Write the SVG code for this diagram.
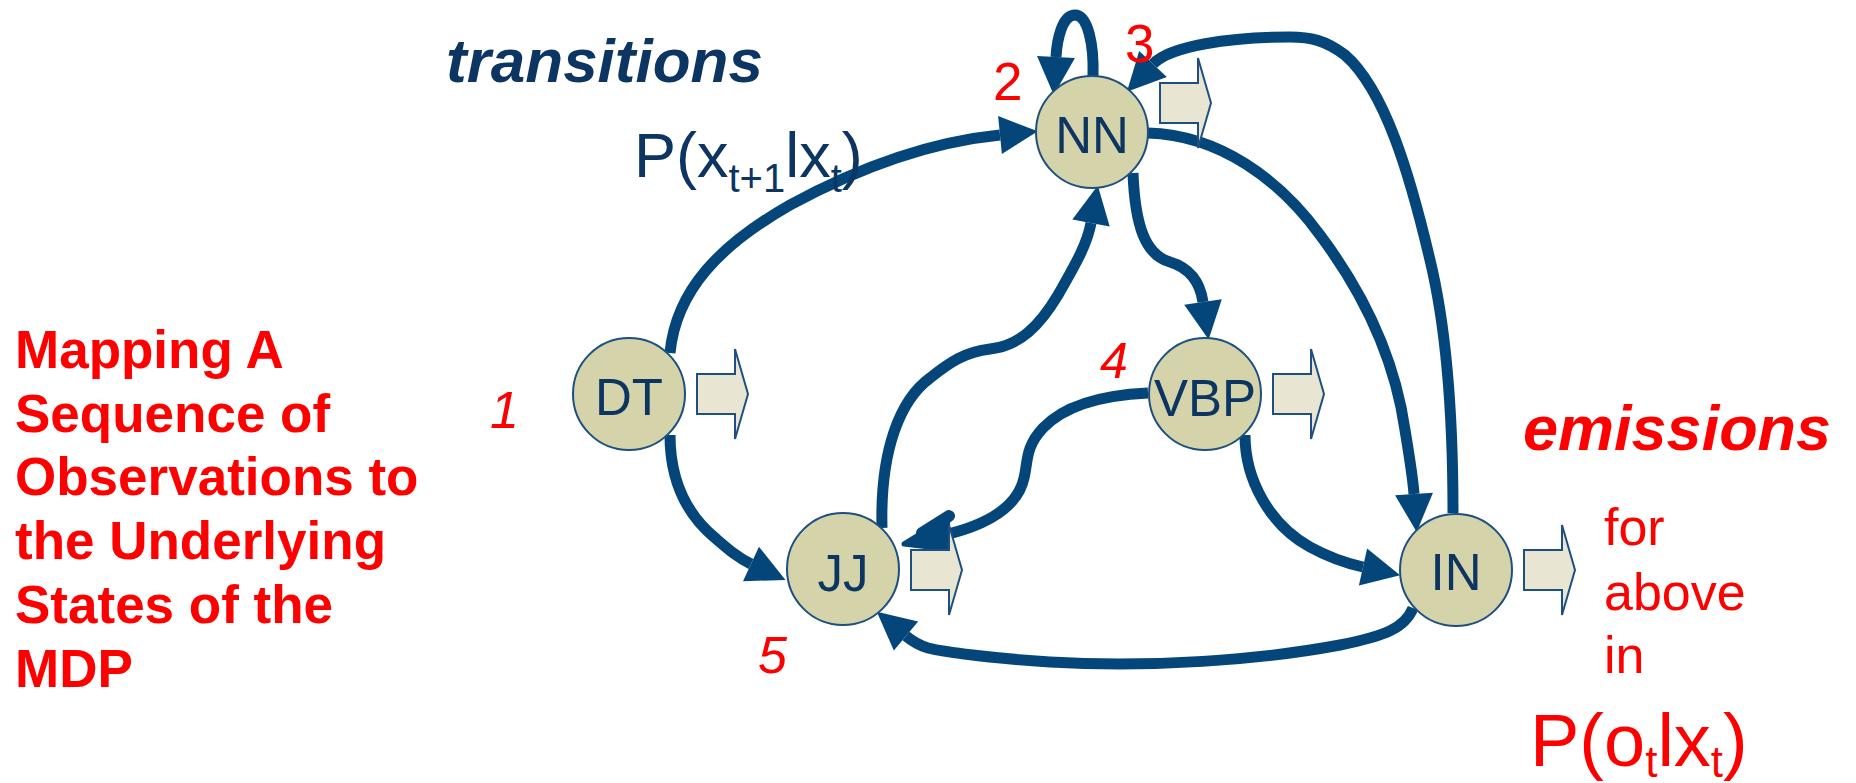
<svg xmlns="http://www.w3.org/2000/svg" xmlns:xlink="http://www.w3.org/1999/xlink" width="1856" height="783" viewBox="0 0 1856 783">
  <style>
    .edge { fill: none; stroke: #05467A; stroke-width: 11; stroke-linecap: butt; }
    .state { fill: #D4D3A9; stroke: #1D5080; stroke-width: 2; }
    .state-label { font-family: "Liberation Sans", Arial, sans-serif; font-size: 51px; fill: #0D3562; text-anchor: middle; }
    .emit { fill: #E8E6D2; stroke: #1D5080; stroke-width: 2; stroke-linejoin: miter; }
    .sans { font-family: "Liberation Sans", Arial, sans-serif; }
    .red { fill: #FF0000; }
    .navy { fill: #0D3562; }
  </style>
  <defs>
    <marker id="head" markerUnits="userSpaceOnUse" viewBox="0 -20 38 40" markerWidth="38" markerHeight="40" refX="0" refY="0" orient="auto" overflow="visible">
      <path d="M0,-19 L38,0 L0,19 Z" fill="#05467A"/>
    </marker>
    <!-- block arrow used for each state's emission -->
    <path id="emit-arrow" class="emit" d="M0,-20 H38 V-45 L51,0 L38,45 V20 H0 Z"/>
  </defs>

  <rect width="1856" height="783" fill="#FFFFFF"/>

  <!-- transitions between states -->
  <g id="connectors">
    <!-- DT -> NN -->
    <path class="edge" marker-end="url(#head)" d="M670,353 C676,290 720,245 790,205 C860,167 930,142 1000,135"/>
    <!-- NN -> NN -->
    <path class="edge" marker-end="url(#head)" d="M1093,76 C1094,45 1088,15 1075,15 C1062,15 1057,40 1056,57"/>
    <!-- IN -> NN -->
    <path class="edge" marker-end="url(#head)" d="M1453,513 C1453,420 1447,330 1430,260 C1410,175 1385,90 1345,55 C1325,40 1310,37 1290,37 C1230,37 1170,46 1153,64"/>
    <!-- NN -> IN -->
    <path class="edge" marker-end="url(#head)" d="M1148,133 C1220,135 1280,180 1320,235 C1365,295 1395,360 1405,430 C1410,460 1413,480 1414,494"/>
    <!-- NN -> VBP -->
    <path class="edge" marker-end="url(#head)" d="M1133,173 C1135,225 1145,255 1170,262 C1190,268 1200,282 1203,302"/>
    <!-- JJ -> NN -->
    <path class="edge" marker-end="url(#head)" d="M882,528 C880,450 900,400 930,378 C950,362 965,352 990,349 C1020,346 1040,325 1058,295 C1075,265 1087,245 1091,223"/>
    <!-- DT -> JJ -->
    <path class="edge" marker-end="url(#head)" d="M670,435 C670,482 688,515 714,537 C728,549 738,558 751,564"/>
    <!-- VBP -> JJ -->
    <path class="edge" d="M1148,393 C1105,395 1065,405 1043,428 C1025,447 1028,462 1024,478 C1018,505 990,525 940,536"/>
    <path d="M904,544 L948,517 L946,549 Z" fill="#05467A" stroke="#05467A" stroke-width="5" stroke-linejoin="round"/>
    <line x1="922" y1="533" x2="949" y2="516" stroke="#05467A" stroke-width="12" stroke-linecap="round"/>
    <!-- VBP -> IN -->
    <path class="edge" marker-end="url(#head)" d="M1245,435 C1245,480 1270,525 1310,547 C1330,558 1345,563 1363,567"/>
    <!-- IN -> JJ -->
    <path class="edge" marker-end="url(#head)" d="M1413,608 C1405,628 1385,636 1340,645 C1260,660 1150,668 1050,662 C990,658 945,652 928,648 C918,645 912,641 906,636"/>
  </g>

  <!-- states -->
  <g id="node-NN">
    <circle class="state" cx="1092" cy="132" r="56"/>
    <text class="state-label" x="1092" y="153">NN</text>
    <use xlink:href="#emit-arrow" x="1160" y="103"/>
  </g>
  <g id="node-DT">
    <circle class="state" cx="629" cy="394" r="56"/>
    <text class="state-label" x="629" y="415">DT</text>
    <use xlink:href="#emit-arrow" x="697" y="394"/>
  </g>
  <g id="node-VBP">
    <circle class="state" cx="1205" cy="394" r="56"/>
    <text class="state-label" x="1205" y="416">VBP</text>
    <use xlink:href="#emit-arrow" x="1273" y="394"/>
  </g>
  <g id="node-JJ">
    <circle class="state" cx="843" cy="569" r="56"/>
    <text class="state-label" x="843" y="591">JJ</text>
    <use xlink:href="#emit-arrow" x="911" y="570"/>
  </g>
  <g id="node-IN">
    <circle class="state" cx="1456" cy="570" r="56"/>
    <text class="state-label" x="1456" y="590">IN</text>
    <use xlink:href="#emit-arrow" x="1524" y="570"/>
  </g>

  <!-- annotations -->
  <g id="labels" class="sans">
    <text x="446" y="82" class="navy" font-size="62" font-weight="bold" font-style="italic">transitions</text>
    <text x="634" y="177" class="navy" font-size="63">P(x<tspan font-size="40" dy="15">t+1</tspan><tspan dy="-15">lx</tspan><tspan font-size="40" dy="15">t</tspan><tspan dy="-15">)</tspan></text>

    <text x="1523" y="450" class="red" font-size="63" font-weight="bold" font-style="italic">emissions</text>
    <text x="1604" y="545" class="red" font-size="52">for</text>
    <text x="1604" y="610" class="red" font-size="52">above</text>
    <text x="1604" y="673" class="red" font-size="52">in</text>
    <text x="1530" y="766" class="red" font-size="74">P(o<tspan font-size="44" dy="11">t</tspan><tspan dy="-11">lx</tspan><tspan font-size="44" dy="11">t</tspan><tspan dy="-11">)</tspan></text>

    <text class="red" font-size="53" font-weight="bold">
      <tspan x="15" y="368">Mapping A</tspan>
      <tspan x="15" y="432">Sequence of</tspan>
      <tspan x="15" y="495">Observations to</tspan>
      <tspan x="15" y="559">the Underlying</tspan>
      <tspan x="15" y="623">States of the</tspan>
      <tspan x="15" y="687">MDP</tspan>
    </text>

    <text x="490" y="428" class="red" font-size="52" font-style="italic">1</text>
    <text x="993" y="100" class="red" font-size="53">2</text>
    <text x="1125" y="62" class="red" font-size="53">3</text>
    <text x="1100" y="378" class="red" font-size="50" font-style="italic">4</text>
    <text x="758" y="673" class="red" font-size="52" font-style="italic">5</text>
  </g>
</svg>
